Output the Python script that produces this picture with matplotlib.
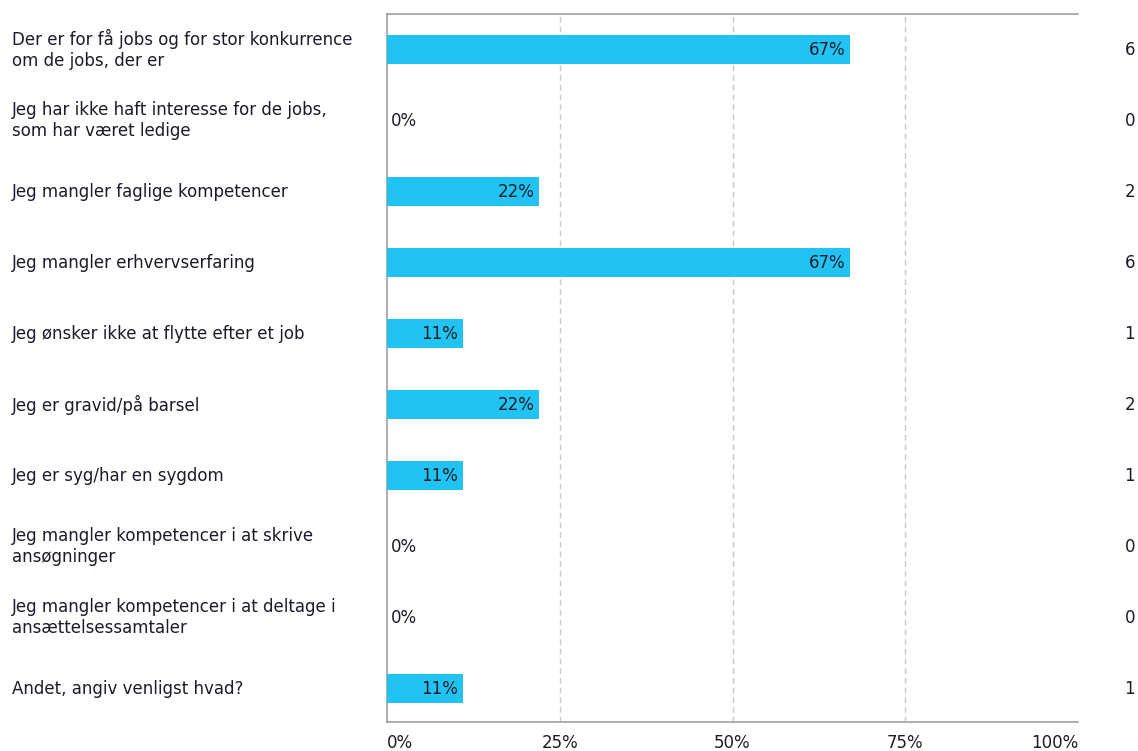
import matplotlib
matplotlib.use("Agg")
import matplotlib.pyplot as plt
import matplotlib.transforms as mtransforms

categories = [
    "Der er for få jobs og for stor konkurrence\nom de jobs, der er",
    "Jeg har ikke haft interesse for de jobs,\nsom har været ledige",
    "Jeg mangler faglige kompetencer",
    "Jeg mangler erhvervserfaring",
    "Jeg ønsker ikke at flytte efter et job",
    "Jeg er gravid/på barsel",
    "Jeg er syg/har en sygdom",
    "Jeg mangler kompetencer i at skrive\nansøgninger",
    "Jeg mangler kompetencer i at deltage i\nansættelsessamtaler",
    "Andet, angiv venligst hvad?",
]
percents = [67, 0, 22, 67, 11, 22, 11, 0, 0, 11]
counts = [6, 0, 2, 6, 1, 2, 1, 0, 0, 1]
xticks = [0, 25, 50, 75, 100]
xticklabels = ["0%", "25%", "50%", "75%", "100%"]

plt.rcParams['font.family'] = ['DejaVu Sans']
FS = 12
TXT = "#1c1c28"
BAR = "#21C3F2"
SPINE = "#a0a0a0"

fig = plt.figure(figsize=(11.38, 7.51), dpi=100)
ax = fig.add_axes([387/1138, 1 - 722/751, (1078 - 387)/1138, (722 - 14)/751])
blend = mtransforms.blended_transform_factory(fig.transFigure, ax.transData)

y = list(range(len(categories)))
ax.barh(y, percents, height=0.4, color=BAR, zorder=3)

for yi, p in zip(y, percents):
    if p > 0:
        ax.text(p - 0.7, yi, f"{p}%", ha="right", va="center", fontsize=FS, color=TXT, zorder=4)
    else:
        ax.text(0.6, yi, f"{p}%", ha="left", va="center", fontsize=FS, color=TXT, zorder=4)

for yi, c in zip(y, counts):
    ax.text(1135/1138, yi, str(c), transform=blend,
            ha="right", va="center", fontsize=FS, color=TXT)

for yi, cat in zip(y, categories):
    ax.text(12/1138, yi, cat, transform=blend,
            ha="left", va="center", fontsize=FS, color=TXT, linespacing=1.2)

ax.set_xlim(0, 100)
ax.set_ylim(9.47, -0.5)
ax.set_xticks(xticks)
ax.set_xticklabels(xticklabels, fontsize=FS, color=TXT)
for lbl, ha in zip(ax.get_xticklabels(), ["left", "center", "center", "center", "right"]):
    lbl.set_ha(ha)
ax.tick_params(axis="x", length=0, pad=9)
ax.set_yticks([])
for xv in xticks[1:-1]:
    ax.axvline(xv, linestyle=(0, (4, 3)), color="#c8c8c8", linewidth=1, zorder=0)
for s in ["left", "bottom", "top"]:
    ax.spines[s].set_color(SPINE)
    ax.spines[s].set_linewidth(1.2)
ax.spines["right"].set_visible(False)

fig.savefig("out.png", dpi=100)
